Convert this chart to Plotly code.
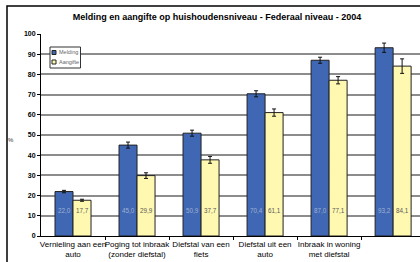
import plotly.graph_objects as go
import numpy as np

categories = ["Vernieling aan een<br>auto", "Poging tot inbraak<br>(zonder diefstal)", "Diefstal van een<br>fiets",
              "Diefstal uit een<br>auto", "Inbraak in woning<br>met diefstal", "Diefstal van een<br>auto"]
melding = [22.0, 45.0, 50.9, 70.4, 87.0, 93.2]
melding_err = [0.6, 1.5, 1.5, 1.5, 1.5, 2.3]
aangifte = [17.7, 29.9, 37.7, 61.1, 77.1, 84.1]
aangifte_err = [0.5, 1.4, 1.7, 1.8, 1.8, 3.6]
series_names = ["Melding", "Aangifte"]
y_ticks = list(range(0, 101, 10))

x = np.arange(len(categories))
fmt = lambda v: f"{v:.1f}".replace(".", ",")
BLUE, YELLOW = "#3F67B3", "#FFF8B0"
W, H, L, T, B = 420, 262, 41, 34, 26
PW, PH = W - L, H - T - B
px = lambda v: (v - L) / PW
py = lambda v: 1 - (v - T) / PH

fig = go.Figure()
fig.add_trace(go.Bar(x=x, y=melding, name=series_names[0], showlegend=False,
                     marker=dict(color=BLUE, line=dict(color="#222", width=1)),
                     error_y=dict(type="data", array=melding_err, color="#111", thickness=1, width=2)))
fig.add_trace(go.Bar(x=x, y=aangifte, name=series_names[1], showlegend=False,
                     marker=dict(color=YELLOW, line=dict(color="#222", width=1)),
                     error_y=dict(type="data", array=aangifte_err, color="#111", thickness=1, width=2)))

bw = (1 - 0.4375) / 2
for xs, vals, tcol in ((x - bw / 2, melding, "#9fb0d4"), (x + bw / 2, aangifte, "#5a5a5a")):
    fig.add_trace(go.Scatter(x=list(xs), y=[12.3] * len(vals), text=[fmt(v) for v in vals],
                             mode="text", textfont=dict(size=6.3, color=tcol, family="Liberation Sans"),
                             showlegend=False, hoverinfo="skip", cliponaxis=False))

fig.add_shape(type="line", xref="paper", yref="y", x0=0, x1=1, y0=70, y1=70,
              line=dict(color="#000", width=1.3), layer="below")
fig.add_shape(type="rect", xref="paper", yref="paper", x0=px(7), x1=1.2, y0=-0.3, y1=py(6),
              line=dict(color="#000", width=1.5))

# legend box
fig.add_shape(type="rect", xref="paper", yref="paper", x0=px(50), x1=px(80.5), y0=py(68), y1=py(47),
              line=dict(color="#333", width=1), fillcolor="white")
for i, (nm, col) in enumerate(zip(series_names, (BLUE, YELLOW))):
    yc = 52.5 + i * 9.5
    fig.add_shape(type="rect", xref="paper", yref="paper", x0=px(52), x1=px(56), y0=py(yc + 2), y1=py(yc - 2),
                  line=dict(color="#222", width=1), fillcolor=col)
    fig.add_annotation(xref="paper", yref="paper", x=px(56.5), y=py(yc), text=nm, showarrow=False,
                       xanchor="left", yanchor="middle", font=dict(size=5.5, color="#666"))

# y axis title
fig.add_annotation(xref="paper", yref="paper", x=px(10.5), y=py(140), text="%", showarrow=False,
                   xanchor="center", yanchor="middle", font=dict(size=6, color="#333"))

fig.update_layout(
    width=W, height=H,
    margin=dict(l=L, r=0, t=T, b=B),
    paper_bgcolor="white", plot_bgcolor="white",
    barmode="group", bargap=0.4375, bargroupgap=0,
    font=dict(family="Liberation Sans", color="#000"),
    showlegend=False,
    title=dict(text="<b>Melding en aangifte op huishoudensniveau - Federaal niveau - 2004</b>",
               x=217 / W, xanchor="center", y=1 - 17 / H, yanchor="middle",
               font=dict(size=9)),
    xaxis=dict(range=[-0.5, 5.42], tickvals=x, ticktext=categories, tickangle=0, automargin=False,
               tickfont=dict(size=8, family="Liberation Sans", color="#000"),
               showline=True, linecolor="#000", linewidth=1, ticks="", showgrid=False,
               zeroline=False,
               minor=dict(tickvals=list(x + 0.5), ticks="outside", ticklen=3, tickcolor="#000", showgrid=False)),
    yaxis=dict(range=[0, 100], tickvals=y_ticks, ticktext=[f"<b>{t}</b>" for t in y_ticks], automargin=False,
               tickfont=dict(size=7), showline=True, linecolor="#000", linewidth=1,
               ticks="outside", ticklen=3, tickcolor="#000",
               showgrid=True, gridcolor="#8c8c8c", gridwidth=2, zeroline=False),
)
fig.write_html("out.html", config={"displayModeBar": False},
               post_script="document.body.style.margin='0';")
